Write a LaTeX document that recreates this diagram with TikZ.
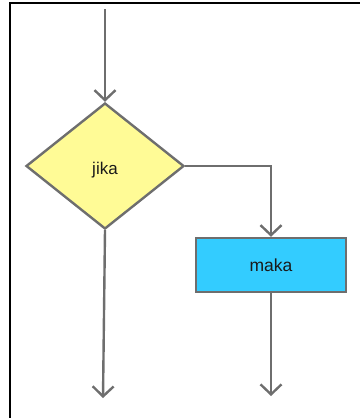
\documentclass[tikz,border=0pt]{standalone}
\usepackage{fontspec}
\setmainfont{Liberation Sans}
\usetikzlibrary{shapes.geometric,arrows.meta}
\definecolor{linegray}{HTML}{6E6E6E}
\definecolor{condfill}{HTML}{FFFB96}
\definecolor{procfill}{HTML}{33CCFF}
\definecolor{txt}{HTML}{1A1A1A}
\tikzset{
  conn/.style={draw=linegray, line width=2.4pt, -{Straight Barb[length=10pt,width=21pt,line width=2.4pt]}},
  cond/.style={diamond, draw=linegray, fill=condfill, line width=2.4pt, minimum width=158pt, minimum height=126pt, inner sep=0pt, text=txt, font=\fontsize{17}{19}\selectfont},
  proc/.style={rectangle, draw=linegray, fill=procfill, line width=2.4pt, minimum width=150pt, minimum height=54pt, inner sep=0pt, text=txt, font=\fontsize{17.5}{19}\selectfont},
}
\begin{document}
\begin{tikzpicture}[x=1pt,y=-1pt]
\useasboundingbox (0,0) rectangle (360,418);
\draw[black, line width=2pt] (9.5,418) -- (9.5,2.5) -- (360,2.5);
\coordinate (start) at (105,9);
\node[cond] (jika) at (105,166) {\raisebox{-8.5pt}[0pt][0pt]{jika}};
\node[proc] (maka) at (271,265) {maka};
\coordinate (endL) at (103,398);
\coordinate (endR) at (271,396);
\draw[conn] (start) -- (jika.north);
\draw[conn] (jika.east) -| (maka.north);
\draw[conn] (jika.south) -- (endL);
\draw[conn] (maka.south) -- (endR);
\end{tikzpicture}
\end{document}
